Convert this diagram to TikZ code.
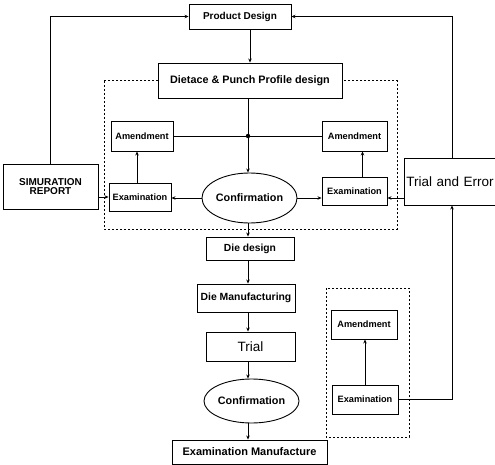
\documentclass[tikz,border=0pt]{standalone}
\usepackage{fontspec}
\setmainfont{Liberation Sans}
\usetikzlibrary{shapes, arrows.meta, positioning, calc}

\begin{document}
\begin{tikzpicture}[
    x=1pt, y=-1pt,
    >={Stealth[length=4pt, width=3.5pt]},
    line width=0.9pt,
    box/.style={rectangle, draw, fill=white, inner sep=1pt, font=\bfseries\fontsize{10}{11}\selectfont},
    small/.style={box, font=\bfseries\fontsize{9.2}{10}\selectfont},
    plain/.style={box, font=\fontsize{13.5}{15}\selectfont},
    oval/.style={ellipse, draw, fill=white, inner sep=0pt, font=\bfseries\fontsize{10.8}{12}\selectfont},
    frame/.style={dash pattern=on 2pt off 2pt, line width=1pt}
]
\useasboundingbox (0,0) rectangle (495,465);

% Dotted frames
\draw[frame] (104,81) rectangle (397,229);
\draw[frame] (326,288) rectangle (409,437);

% Profile design loop
\node (Design) at (240,16.5) [box, minimum width=102pt, minimum height=25pt] {Product Design};
\node (Profile) at (250,80.5) [box, font=\bfseries\fontsize{10.8}{12}\selectfont,
    minimum width=184pt, minimum height=35pt] {Dietace \& Punch Profile design};
\node (AmendL) at (142,136) [small, minimum width=62pt, minimum height=30pt] {Amendment};
\node (AmendR) at (354.5,136) [small, minimum width=65pt, minimum height=30pt] {Amendment};
\node (Report) at (50.5,186.5) [box, minimum width=95pt, minimum height=45pt, align=center,
    font=\bfseries\fontsize{10}{9}\selectfont] {SIMURATION\\REPORT};
\node (ExamL) at (140,197) [small, minimum width=62pt, minimum height=28pt] {Examination};
\node (Conf) at (249.5,198) [oval, minimum width=91pt, minimum height=50pt] {Confirmation};
\node (ExamR) at (354.5,191) [small, minimum width=65pt, minimum height=28pt] {Examination};
\node (TrialErr) at (404,181.5) [plain, anchor=west, inner xsep=2pt, text width=104pt, align=left,
    minimum height=47pt] {Trial and Error};
\coordinate (Junction) at (248,136);
\coordinate (LoopR) at (452,16.5);

\draw[->] (Design.south -| Profile) -- (Profile.north);
\draw (AmendL.east) -- (AmendR.west);
\fill (Junction) circle (2.2pt);
\draw[->] (Profile.south -| Junction) -- (Conf.north -| Junction);
\draw[->] (Conf.west) -- (Conf.west -| ExamL.east);
\draw[->] (Conf.east) -- (Conf.east -| ExamR.west);
\draw[->] (ExamL.west -| Report.east) -- (ExamL.west);
\draw[->] (Conf.east -| TrialErr.west) -- (Conf.east -| ExamR.east);
\draw[->] ([xshift=-3pt]ExamL.north) -- ([xshift=-3pt]ExamL.north |- AmendL.south);
\draw[->] ([xshift=8pt]ExamR.north) -- ([xshift=8pt]ExamR.north |- AmendR.south);

% Feedback to product design
\draw[->] (Report.north) |- (Design.west);
\draw[->] (TrialErr.north -| LoopR) |- (Design.east);

% Die making
\node (DieDesign) at (250,248.5) [box, font=\bfseries\fontsize{10.3}{11}\selectfont,
    minimum width=88pt, minimum height=23pt] {Die design};
\node (DieManu) at (246,298) [box, font=\bfseries\fontsize{10.4}{11}\selectfont,
    minimum width=98pt, minimum height=28pt] {Die Manufacturing};
\node (Trial) at (250.5,346.5) [plain, minimum width=89pt, minimum height=29pt] {Trial};
\node (Conf2) at (251.5,401) [oval, minimum width=89pt, minimum height=44pt] {Confirmation};
\node (ExManu) at (249.5,452) [box, font=\bfseries\fontsize{11}{12}\selectfont,
    minimum width=155pt, minimum height=24pt] {Examination Manufacture};

\draw[->] (Conf.south -| Junction) -- (DieDesign.north -| Junction);
\draw[->] (DieDesign.south -| Junction) -- (DieManu.north -| Junction);
\draw[->] (DieManu.south -| Junction) -- (Trial.north -| Junction);
\draw[->] (Trial.south -| Junction) -- (Conf2.north -| Junction);
\draw[->] (Conf2.south -| Junction) -- (ExManu.north -| Junction);

% Trial and error loop
\node (Amend3) at (364,324.5) [small, minimum width=66pt, minimum height=29pt] {Amendment};
\node (Exam3) at (365,399.5) [small, minimum width=66pt, minimum height=29pt] {Examination};

\draw[->] (Exam3.north) -- (Exam3.north |- Amend3.south);
\draw[->] (Exam3.east) -| (TrialErr.south -| LoopR);
\end{tikzpicture}
\end{document}
